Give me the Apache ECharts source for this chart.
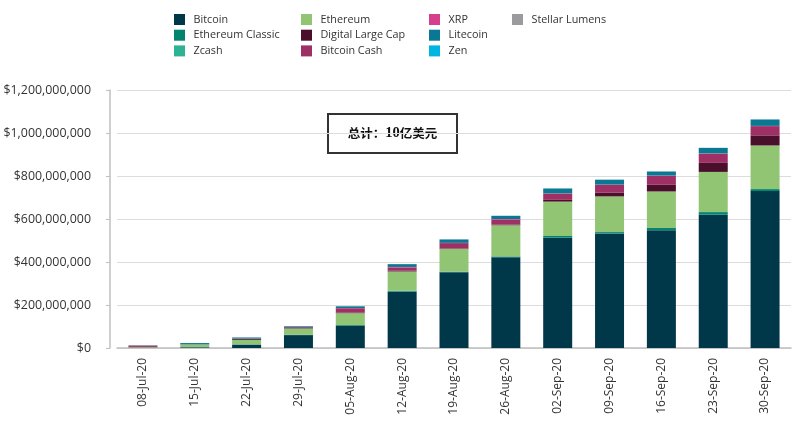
<!DOCTYPE html>
<html><head><meta charset="utf-8">
<script src="https://cdn.jsdelivr.net/npm/echarts@6/dist/echarts.min.js"></script>
<style>html,body{margin:0;padding:0;background:#fff}#c{width:800px;height:433px}</style>
</head><body><div id="c"></div>
<script>
// values in millions of USD
const categories = ['08-Jul-20','15-Jul-20','22-Jul-20','29-Jul-20','05-Aug-20','12-Aug-20','19-Aug-20','26-Aug-20','02-Sep-20','09-Sep-20','16-Sep-20','23-Sep-20','30-Sep-20'];
const bitcoin         = [2, 3, 15, 60, 104, 262, 352, 422, 513, 533, 548, 620, 730];
const ethereumClassic = [0, 1, 2, 2, 3, 4, 3, 4, 8, 6, 10, 12, 9];
const zcash           = [0, 0, 0, 0, 0, 0, 0, 0, 0, 0, 0, 0, 0];
const ethereum        = [3, 12, 21, 29, 55, 90, 106, 145, 160, 166, 170, 187, 203];
const digitalLargeCap = [0, 0, 4, 2, 3, 3, 2, 3, 8, 17, 31, 42, 47];
const bitcoinCash     = [6, 1, 2, 4, 20, 16, 25, 24, 29, 37, 42, 43, 43];
const xrp             = [1, 0, 0, 0, 1, 2, 1, 2, 1, 1, 1, 1, 1];
const litecoin        = [1, 6, 5, 4, 8, 13, 16, 15, 23, 23, 19, 26, 30];
const zen             = [0, 0, 0, 0, 0, 0, 0, 0, 0, 0, 0, 0, 0];
const stellarLumens   = [0, 0, 0, 0, 0, 0, 0, 0, 0, 0, 0, 0, 0];
const yTicks = [0, 200000000, 400000000, 600000000, 800000000, 1000000000, 1200000000];
const annotationParts = ['总计：', '10', '亿美元'];

const seriesDefs = [
  ['Bitcoin', bitcoin, '#00384a'],
  ['Ethereum Classic', ethereumClassic, '#00836f'],
  ['Zcash', zcash, '#2db394'],
  ['Ethereum', ethereum, '#91c574'],
  ['Digital Large Cap', digitalLargeCap, '#4a0f2a'],
  ['Bitcoin Cash', bitcoinCash, '#9e3066'],
  ['XRP', xrp, '#d63f8c'],
  ['Litecoin', litecoin, '#0b7893'],
  ['Zen', zen, '#00b5e2'],
  ['Stellar Lumens', stellarLumens, '#9b9b9e']
];
const font = '"Open Sans", sans-serif';
const legendCols = [
  [['Bitcoin','Ethereum Classic','Zcash'], 174],
  [['Ethereum','Digital Large Cap','Bitcoin Cash'], 301],
  [['XRP','Litecoin','Zen'], 429],
  [['Stellar Lumens'], 512]
];
const chart = echarts.init(document.getElementById('c'), null, {renderer: 'canvas'});
chart.setOption({
  animation: false,
  legend: legendCols.map(([names, left]) => ({
    data: names, orient: 'vertical', left: left, top: 14, padding: 0,
    itemWidth: 11, itemHeight: 11, itemGap: 4.7, icon: 'rect',
    textStyle: {fontFamily: font, fontSize: 10.8, color: '#333', lineHeight: 11, padding: [0, 0, 0, 3.5]},
    selectedMode: false
  })),
  grid: {left: 117, right: 9, top: 90, bottom: 85},
  xAxis: {
    type: 'category', data: categories,
    axisLine: {lineStyle: {color: '#bfbfbf', width: 1.5}},
    axisTick: {show: false},
    axisLabel: {rotate: 90, fontFamily: font, fontSize: 12, color: '#333', margin: 10}
  },
  yAxis: {
    type: 'value', min: yTicks[0], max: yTicks[yTicks.length - 1], interval: yTicks[1] - yTicks[0],
    offset: 7,
    axisLine: {show: true, lineStyle: {color: '#bfbfbf', width: 1.5}},
    axisTick: {show: true, length: 4, lineStyle: {color: '#bfbfbf'}},
    splitLine: {lineStyle: {color: '#dcdcdc', width: 1}},
    axisLabel: {fontFamily: font, fontSize: 12.4, color: '#333', margin: 19,
      formatter: v => '$' + v.toLocaleString('en-US')}
  },
  graphic: [{
    type: 'group', left: 327, top: 113,
    children: [
      {type: 'rect', shape: {x: 0, y: 0, width: 129, height: 39}, style: {fill: '#fff', stroke: '#333', lineWidth: 2}},
      {type: 'text', x: 64.5, y: 19.5, style: {
        text: '{a|' + annotationParts[0] + '}{b|' + annotationParts[1] + '}{a|' + annotationParts[2] + '}',
        align: 'center', verticalAlign: 'middle',
        rich: {
          a: {fontFamily: '"Noto Sans CJK SC", sans-serif', fontWeight: 'bold', fontSize: 12.5, fill: '#111', color: '#111'},
          b: {fontFamily: '"Liberation Serif", serif', fontWeight: 'bold', fontSize: 14.5, fill: '#111', color: '#111'}
        }
      }}
    ]
  }],
  series: seriesDefs.map(([name, vals, color]) => ({
    name: name, type: 'bar', stack: 'total', barWidth: 29,
    itemStyle: {color: color},
    data: vals.map(v => v * 1000000)
  }))
});
</script></body></html>
